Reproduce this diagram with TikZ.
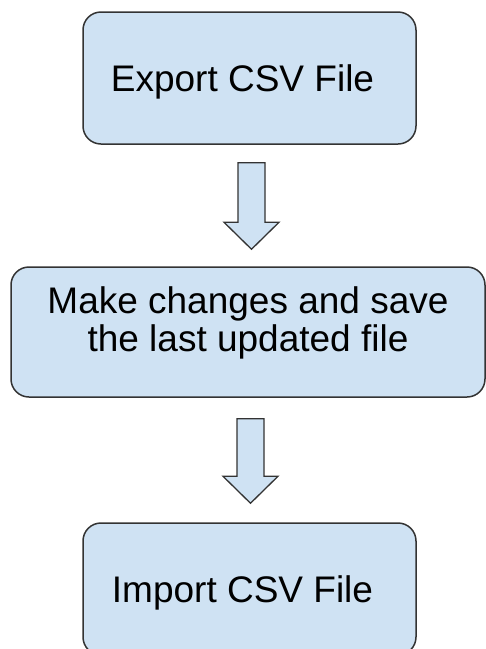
\documentclass[tikz,border=0pt]{standalone}
\usepackage{fontspec}
\setmainfont{Liberation Sans}
\usetikzlibrary{positioning,calc}
\definecolor{boxblue}{HTML}{CFE2F3}
\definecolor{edgegray}{HTML}{333333}
\tikzset{
  stepbox/.style={draw=edgegray, fill=boxblue, line width=1.5pt,
    rounded corners=18pt, inner sep=0pt, font=\fontsize{37}{38}\selectfont},
  oneline/.style={stepbox, minimum width=333pt, minimum height=132pt,
    text height=27pt, text depth=0pt},
  blockarrow/.style={draw=edgegray, fill=boxblue, line width=1.3pt, line join=miter}
}
% hollow down arrow from #1 (top of shaft) to #2 (tip)
\newcommand{\downblock}[2]{%
  \draw[blockarrow] let \p1=(#1), \p2=(#2) in
    (\x1-13.5pt,\y1) -- (\x1+13.5pt,\y1) -- (\x1+13.5pt,\y2+27pt) -- (\x1+27.5pt,\y2+27pt)
    -- (\x1,\y2) -- (\x1-27.5pt,\y2+27pt) -- (\x1-13.5pt,\y2+27pt) -- cycle;}

\begin{document}
\begin{tikzpicture}[x=1pt,y=-1pt]
  \useasboundingbox (0,0) rectangle (486,649);

  \node [oneline] (export) at (249.5,78) {Export CSV File\kern14pt};
  \node [stepbox, minimum width=474pt, minimum height=130pt, align=center] (changes) at (248,332)
    {Make changes and save\\the last updated file\rule[-25pt]{0pt}{0pt}};
  \node [oneline] (import) at (249.5,589) {Import CSV File\kern14pt};

  \coordinate (top1) at ($(export.south)+(2,18)$);
  \coordinate (tip1) at ($(changes.north)+(3.5,-17)$);
  \coordinate (top2) at ($(changes.south)+(2.5,21)$);
  \coordinate (tip2) at ($(import.north)+(1,-19)$);

  \downblock{top1}{tip1}
  \downblock{top2}{tip2}
\end{tikzpicture}
\end{document}
